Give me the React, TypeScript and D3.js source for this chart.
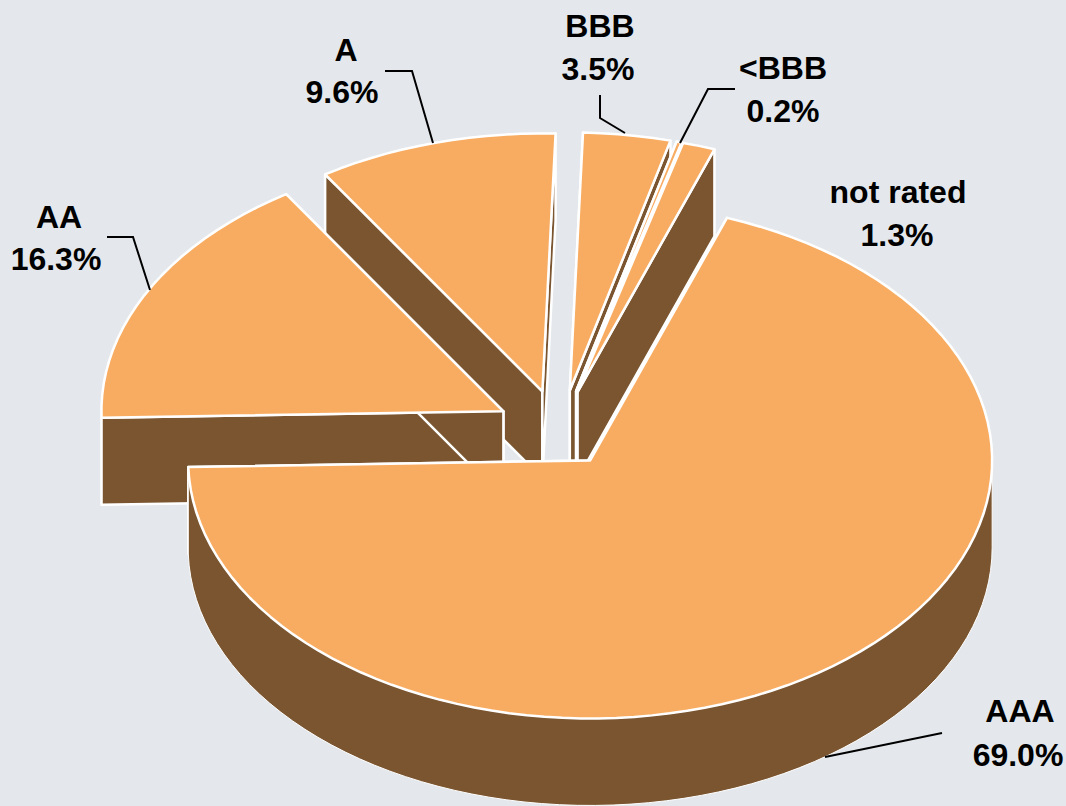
import React from "react";
import * as d3 from "d3";

// Portfolio split by credit rating, in percent, clockwise from the large slice.
const ratings = ["AAA", "AA", "A", "BBB", "<BBB", "not rated"];
const shares = [69.0, 16.3, 9.6, 3.5, 0.2, 1.3];
const paintOrder = ["A", "BBB", "<BBB", "not rated", "AA", "AAA"];

const WIDTH = 1066;
const HEIGHT = 806;
const BACKGROUND = "#e4e8ec";
const TOP_COLOR = "#f8ac61";
const WALL_COLOR = "#7a5530";

// Tilted pie projection.
const center = { x: 558, y: 428 };
const radiusX = 402;
const radiusY = 258;
const depth = 87;
const explodeX = 55;
const explodeY = 40;
const firstAngle = (19.9 * Math.PI) / 180;

// Per-slice correction on top of the radial explosion, and label placement.
const nudges: Record<string, Point> = {
  AAA: [0, 0],
  AA: [-6, 2],
  A: [-1, 2],
  BBB: [4, 2],
  "<BBB": [4, 2],
  "not rated": [3, 2],
};
const annotations: Record<string, { x: number[]; y: number[]; leader: Point[] | null }> = {
  AAA: { x: [1020, 1018], y: [722, 766], leader: [[942, 733], [825, 757]] },
  AA: { x: [59, 56], y: [228, 270], leader: [[107, 237], [133, 237], [150, 290]] },
  A: { x: [346, 342], y: [61, 103], leader: [[385, 71], [412, 71], [433, 143]] },
  BBB: { x: [600, 598], y: [37, 80], leader: [[600, 95], [600, 118], [625, 133]] },
  "<BBB": { x: [783, 783], y: [79, 122], leader: [[735, 89], [708, 89], [680, 143]] },
  "not rated": { x: [898, 897], y: [203, 246], leader: null },
};

type Point = [number, number];

const pie = d3
  .pie<number>()
  .sort(null)
  .startAngle(firstAngle)
  .endAngle(firstAngle + 2 * Math.PI);

const line = d3.line();
const rimAngles = (a0: number, a1: number) => {
  const steps = Math.max(2, Math.ceil((a1 - a0) / 0.045));
  return d3.range(steps + 1).map((i) => a0 + ((a1 - a0) * i) / steps);
};

export default function App() {
  const arcs = pie(shares);
  const slices = ratings.map((rating, i) => {
    const { startAngle: a0, endAngle: a1 } = arcs[i];
    const mid = (a0 + a1) / 2;
    const apex: Point = [
      center.x + explodeX * Math.sin(mid) + nudges[rating][0],
      center.y - explodeY * Math.cos(mid) + nudges[rating][1],
    ];
    const rimPoint = (a: number, drop = 0): Point => [
      apex[0] + radiusX * Math.sin(a),
      apex[1] - radiusY * Math.cos(a) + drop,
    ];
    const rim = rimAngles(a0, a1);
    const lower = (p: Point): Point => [p[0], p[1] + depth];
    // Only the rim facing the viewer (a quarter turn to three quarters) has a visible wall.
    const frontStart = Math.max(a0, Math.PI / 2);
    const frontEnd = Math.min(a1, (3 * Math.PI) / 2);
    const frontRim = frontEnd > frontStart ? rimAngles(frontStart, frontEnd) : [];
    return {
      rating,
      top: line([apex, ...rim.map((a) => rimPoint(a))]) + "Z",
      outerWall: frontRim.length
        ? line([...frontRim.map((a) => rimPoint(a)), ...frontRim.slice().reverse().map((a) => rimPoint(a, depth))]) + "Z"
        : null,
      startWall: line([apex, rimPoint(a0), rimPoint(a0, depth), lower(apex)]) + "Z",
      endWall: line([apex, rimPoint(a1), rimPoint(a1, depth), lower(apex)]) + "Z",
    };
  });
  const ordered = paintOrder.map((name) => slices.find((s) => s.rating === name)!);

  return (
    <svg
      width={WIDTH}
      height={HEIGHT}
      viewBox={`0 0 ${WIDTH} ${HEIGHT}`}
      style={{ position: "absolute", left: 0, top: 0, display: "block" }}
    >
      <rect width={WIDTH} height={HEIGHT} fill={BACKGROUND} />
      {ordered.map((s) => (
        <g key={s.rating} stroke="#fff" strokeWidth={2.5} strokeLinejoin="round">
          <path d={s.startWall} fill={WALL_COLOR} />
          <path d={s.endWall} fill={WALL_COLOR} />
          {s.outerWall && <path d={s.outerWall} fill={WALL_COLOR} strokeWidth={1} />}
          <path d={s.top} fill={TOP_COLOR} />
        </g>
      ))}
      {ratings.map((rating, i) => {
        const note = annotations[rating];
        return (
          <g key={rating}>
            {note.leader && (
              <path d={line(note.leader)!} fill="none" stroke="#000" strokeWidth={2} />
            )}
            <g fontFamily="'Liberation Sans', Arial, sans-serif" fontWeight="bold" fontSize={32} textAnchor="middle" fill="#000">
              <text x={note.x[0]} y={note.y[0]}>{rating}</text>
              <text x={note.x[1]} y={note.y[1]}>{d3.format(".1f")(shares[i])}%</text>
            </g>
          </g>
        );
      })}
    </svg>
  );
}
